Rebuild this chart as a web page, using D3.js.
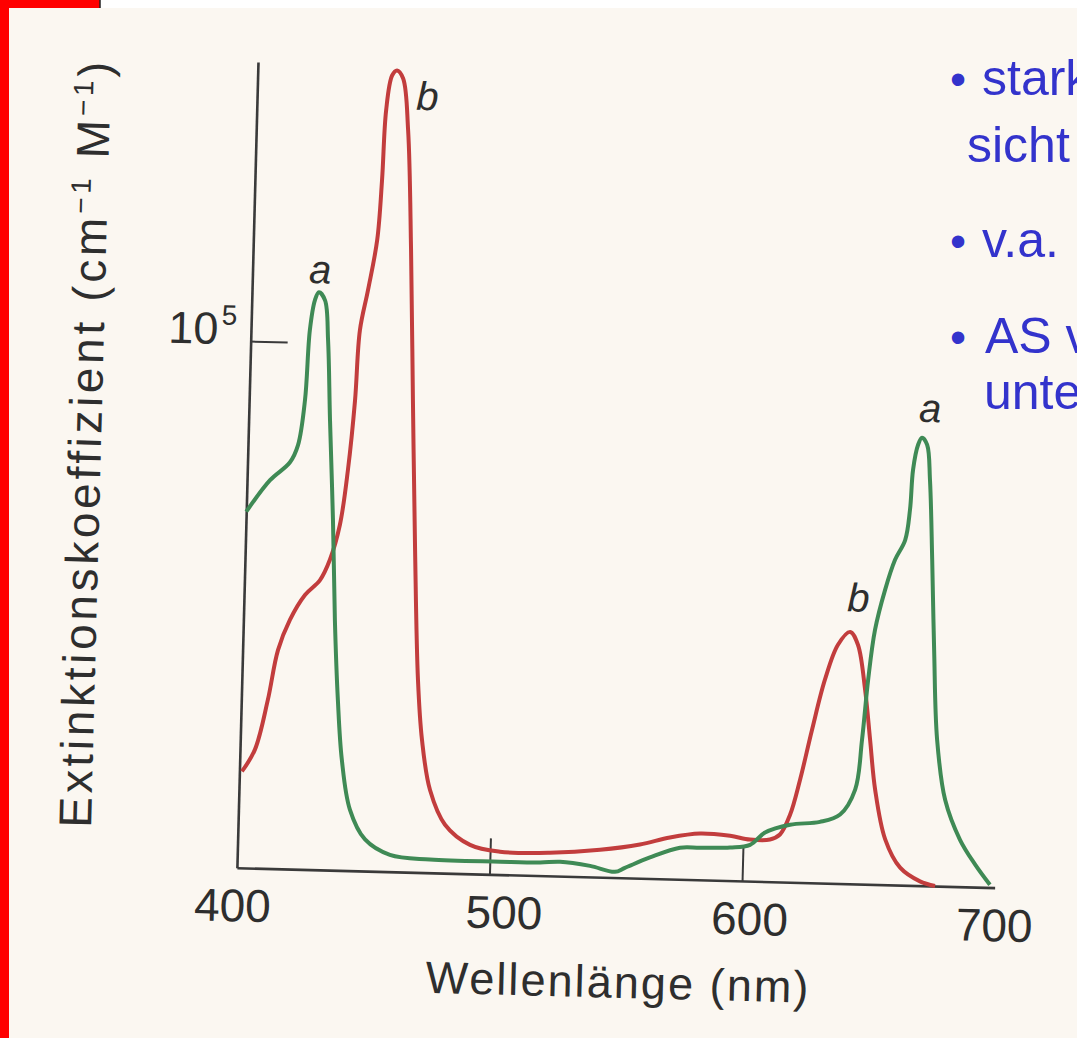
<!DOCTYPE html>
<html><head><meta charset="utf-8">
<script src="https://cdn.jsdelivr.net/npm/d3@7"></script>
<style>
html,body{margin:0;padding:0;background:#fbf7f1;overflow:hidden}
svg{display:block}
</style></head><body>
<svg id="c" width="1077" height="1038"></svg>
<script>
// ---- data (wavelength in nm, extinction coefficient in 10^3 M^-1 cm^-1) ----
const wavelengthA = [400,409.1,416.8,419.8,422.1,423.3,425.0,426.5,429.0,430.6,432.2,434.4,436.2,438.2,440.4,444.1,450.4,460.4,476.3,504.1,519.9,527.8,539.7,549.6,553.5,563.3,575.1,583.0,594.9,602.8,608.6,618.4,630.2,638.1,643.8,646.0,647.8,650.0,653.6,657.2,661.0,662.6,663.4,665.1,666.6,668.7,670.2,671.9,673.6,675.7,679.5,685.8,692.0,698.1];
const epsilonA = [67.6,73.7,77.2,80.5,89.1,102.4,108.1,109.6,108.1,100.6,85.4,66.5,47.5,32.4,21.0,11.6,6.0,3.2,2.5,2.45,2.5,2.75,2.1,1.1,1.9,4.0,6.0,6.1,6.3,6.9,9.3,10.9,11.6,13.1,17.9,27.4,38.8,48.3,56.0,61.7,65.5,71.3,78.9,83.6,85.0,83.7,77.0,61.9,44.8,27.8,16.4,8.9,4.3,0.5];
const wavelengthB = [401,405.9,410.5,414.0,418.4,424.1,429.9,433.6,437.2,439.8,441.9,443.1,445.9,449.0,450.3,451.2,453.2,455.1,457.6,460.1,462.5,464.8,467.2,469.7,471.9,475.6,481.9,492.0,503.9,523.7,543.5,559.2,571.0,582.9,594.8,602.7,610.6,614.5,618.3,621.9,626.1,630.7,635.5,640.2,643.4,646.7,649.2,651.7,656.2,662.4,670.4,676.4];
const epsilonB = [18.3,22.5,32.0,41.5,47.3,52.1,55.0,58.9,65.6,76.0,89.3,102.6,110.3,119.8,131.2,144.5,151.1,152.1,150.6,140.8,118.1,89.6,61.2,36.5,25.2,15.7,9.2,5.5,4.35,4.4,5.2,6.4,7.9,8.8,8.5,7.9,8.0,9.0,12.8,19.5,29.0,38.6,45.3,47.8,45.4,36.9,27.4,18.0,8.6,3.3,0.8,0];
const xTicks = [400,500,600,700];
const yTicks = [100];
const yTickBase = "10", yTickExp = "5";
const xTitle = "Wellenlänge (nm)";
const yTitleParts = [["Extinktionskoeffizient (cm",false],["−1",true],[" M",false],["−1",true],[")",false]];
const peakLabelText = ["a","b","a","b"];
const peakLabelWl = [426.8,467.4,669.6,643.1];
const peakLabelEps = [111.3,144.7,88.0,51.7];
const bulletTexts = ["stark","sicht","v.a.","AS v","unte"];
const bulletFlags = [true,false,true,true,false];

// ---- drawing ----
const svg = d3.select("#c");
svg.append("rect").attr("x",0).attr("y",0).attr("width",1077).attr("height",1038).attr("fill","#fbf7f1");
svg.append("rect").attr("x",0).attr("y",0).attr("width",1077).attr("height",8).attr("fill","#ffffff");
svg.append("rect").attr("x",0).attr("y",0).attr("width",100).attr("height",8).attr("fill","#ff0000");
svg.append("rect").attr("x",0).attr("y",0).attr("width",9).attr("height",1038).attr("fill","#ff0000");
svg.append("line").attr("x1",100).attr("x2",100).attr("y1",0).attr("y2",8).attr("stroke","#222").attr("stroke-width",1.5);

const W = 758, H = 806;
const x = d3.scaleLinear().domain([400,700]).range([0,W]);
const y = d3.scaleLinear().domain([0,153]).range([H,0]);

const g = svg.append("g").attr("transform","translate(258,62) rotate(1.5)");
const font = "'Liberation Sans', Arial, Helvetica, sans-serif";
const tickLabelShift = {400:-4, 500:15, 600:8, 700:0};

// x axis
const xa = g.append("g").attr("transform",`translate(0,${H})`)
  .call(d3.axisBottom(x).tickValues(xTicks).tickSize(-36).tickSizeOuter(0).tickPadding(21).tickFormat(d3.format("d")));
xa.select(".domain").attr("stroke","#3a3a3a").attr("stroke-width",2.6);
xa.selectAll(".tick line").attr("stroke","#3a3a3a").attr("stroke-width",2)
  .attr("opacity",(d)=> (d===500||d===600)?1:0);
xa.selectAll(".tick text").attr("font-family",font).attr("font-size",46).attr("fill","#2e2e2e")
  .attr("dx",d=>tickLabelShift[d]);

// y axis
const ya = g.append("g")
  .call(d3.axisLeft(y).tickValues(yTicks).tickSize(-37).tickSizeOuter(0).tickPadding(14));
ya.select(".domain").attr("stroke","#3a3a3a").attr("stroke-width",2.6);
ya.selectAll(".tick line").attr("stroke","#3a3a3a").attr("stroke-width",2);
ya.selectAll(".tick text").each(function(){
  const t = d3.select(this).text("").attr("font-family",font).attr("fill","#2e2e2e");
  t.append("tspan").attr("font-size",45).text(yTickBase);
  t.append("tspan").attr("font-size",28).attr("dx",3).attr("dy","-0.7em").text(yTickExp);
});

// curves
const line = d3.line().x(d=>x(d[0])).y(d=>y(d[1])).curve(d3.curveCatmullRom.alpha(0.5));
const dataA = wavelengthA.map((w,i)=>[w,epsilonA[i]]);
const dataB = wavelengthB.map((w,i)=>[w,epsilonB[i]]);
g.append("path").attr("d",line(dataB)).attr("fill","none").attr("stroke","#c23d3d").attr("stroke-width",4).attr("stroke-linejoin","round");
g.append("path").attr("d",line(dataA)).attr("fill","none").attr("stroke","#3f8a55").attr("stroke-width",4).attr("stroke-linejoin","round");

// peak labels
peakLabelText.forEach((t,i)=>{
  g.append("text").attr("x",x(peakLabelWl[i])).attr("y",y(peakLabelEps[i]))
    .attr("text-anchor","middle").attr("font-family",font).attr("font-style","italic")
    .attr("font-size",40).attr("fill","#2e2e2e").text(t);
});

// axis titles
g.append("text").attr("x",W/2+4).attr("y",H+120).attr("text-anchor","middle")
  .attr("font-family",font).attr("font-size",45).attr("fill","#2e2e2e")
  .attr("textLength",383).attr("lengthAdjust","spacing").text(xTitle);
const yt = g.append("text").attr("transform","translate(-147,387) rotate(-90)").attr("text-anchor","middle")
  .attr("font-family",font).attr("font-size",46).attr("fill","#2e2e2e")
  .attr("textLength",766).attr("lengthAdjust","spacing");
yTitleParts.forEach(([s,sup],i)=>{
  const ts = yt.append("tspan").text(s);
  if(sup){ ts.attr("font-size",28).attr("dy",-17); }
  else if(i>0 && yTitleParts[i-1][1]){ ts.attr("dy",17); }
});

// slide bullet text (right side)
const bl = [{x:982,y:95},{x:967,y:162},{x:982,y:257},{x:985,y:353},{x:984,y:409}];
bulletTexts.forEach((t,i)=>{
  if(bulletFlags[i]){
    svg.append("text").attr("x",950).attr("y",bl[i].y).attr("font-family",font)
      .attr("font-size",46).attr("fill","#3333cc").text("•");
  }
  svg.append("text").attr("x",bl[i].x).attr("y",bl[i].y).attr("font-family",font)
    .attr("font-size",50).attr("fill","#3333cc").text(t);
});
</script>
</body></html>
